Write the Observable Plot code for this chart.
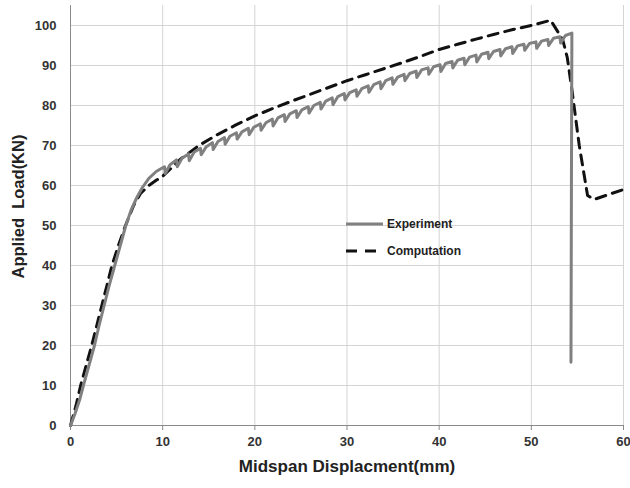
<!DOCTYPE html>
<html>
<head>
<meta charset="utf-8">
<script src="https://cdn.jsdelivr.net/npm/d3@7"></script>
<script src="https://cdn.jsdelivr.net/npm/@observablehq/plot@0.6"></script>
<style>
  html, body { margin: 0; padding: 0; background: #fff; }
  #wrap { position: relative; width: 630px; height: 488px; }
  #legend { position: absolute; left: 346px; top: 214px; font-family: "Liberation Sans", Arial, sans-serif; font-weight: bold; font-size: 12px; color: #222; }
  .row { display: flex; align-items: center; }
  .row svg { margin-right: 3px; }
</style>
</head>
<body>
<div id="wrap">
  <div id="chart"></div>
  <div id="legend">
    <div class="row" style="height:20px"><svg width="38" height="6"><line x1="0" y1="3" x2="37" y2="3" stroke="#808080" stroke-width="3"/></svg><span>Experiment</span></div>
    <div class="row" style="height:34px"><svg width="38" height="6"><line x1="0" y1="3" x2="30" y2="3" stroke="#111" stroke-width="3" stroke-dasharray="11,8"/></svg><span>Computation</span></div>
  </div>
</div>
<script>
// Tick labels
const xTicks = [0, 10, 20, 30, 40, 50, 60];
const yTicks = [0, 10, 20, 30, 40, 50, 60, 70, 80, 90, 100];

// Experiment series (midspan displacement mm, applied load kN)
const expX = [0, 0.5, 1.0, 1.4, 2.0, 2.6, 3.1, 3.65, 4.2, 4.8, 5.4, 6.0, 6.6, 7.2, 7.8, 8.5, 9.3, 9.9,
  10.2, 10.28, 10.8, 11.5, 11.58, 12.1, 12.8, 12.88, 13.4, 14.1, 14.18, 14.7,
  15.4, 15.48, 16.0, 16.7, 16.78, 17.3, 18.0, 18.08, 18.6, 19.3, 19.38, 19.9,
  20.6, 20.68, 21.2, 21.9, 21.98, 22.5, 23.2, 23.28, 23.8, 24.5, 24.58, 25.1,
  25.8, 25.88, 26.4, 27.1, 27.18, 27.7, 28.4, 28.48, 29.0, 29.7, 29.78, 30.3,
  31.0, 31.08, 31.6, 32.3, 32.38, 32.9, 33.6, 33.68, 34.2, 34.9, 34.98, 35.5,
  36.2, 36.28, 36.8, 37.5, 37.58, 38.1, 38.8, 38.88, 39.4, 40.1, 40.18, 40.7,
  41.4, 41.48, 42.0, 42.7, 42.78, 43.3, 44.0, 44.08, 44.6, 45.3, 45.38, 45.9,
  46.6, 46.68, 47.2, 47.9, 47.98, 48.5, 49.2, 49.28, 49.8, 50.5, 50.58, 51.1,
  51.8, 51.88, 52.4, 53.1, 53.18, 53.7, 54.4, 54.35, 54.3];
const expY = [0, 3, 6.5, 10, 15, 20, 25, 30, 35, 40, 45, 50, 54, 57, 59.5, 61.8, 63.5, 64.3,
  64.7, 63.0, 65.2, 66.4, 64.7, 66.8, 67.9, 66.2, 68.3, 69.3, 67.7, 69.6,
  70.7, 69.0, 71.0, 72.0, 70.3, 72.3, 73.2, 71.6, 73.4, 74.3, 72.7, 74.6,
  75.4, 73.8, 75.7, 76.6, 74.9, 76.9, 77.7, 76.0, 77.9, 78.7, 77.0, 78.9,
  79.7, 78.1, 80.0, 80.8, 79.1, 81.1, 81.9, 80.2, 82.2, 83.0, 81.4, 83.2,
  83.9, 82.3, 84.2, 84.9, 83.3, 85.2, 85.9, 84.2, 86.2, 86.9, 85.3, 87.1,
  87.8, 86.2, 88.0, 88.6, 87.0, 88.9, 89.4, 87.8, 89.7, 90.2, 88.5, 90.5,
  91.0, 89.4, 91.3, 91.8, 90.2, 92.1, 92.6, 90.9, 92.8, 93.3, 91.7, 93.5,
  94.0, 92.4, 94.2, 94.7, 93.0, 94.9, 95.3, 93.8, 95.5, 95.9, 94.3, 96.1,
  96.5, 95.0, 96.8, 97.2, 95.6, 97.5, 98.1, 60, 15.8];

// Computation series
const compX = [0, 0.6, 1.1, 1.7, 2.3, 2.85, 3.4, 3.95, 4.5, 5.2, 5.97, 6.85, 7.6, 8.5, 9.3, 10, 11, 12, 13, 14, 16, 18, 20, 22, 24, 26, 28, 30, 32, 34, 36, 38, 40, 42, 44, 46, 48, 50, 52.1, 53.4, 53.9, 54.4, 55.2, 56.1, 56.8, 60];
const compY = [0, 5, 10, 15, 20, 25, 30, 35, 40, 45, 50, 55, 58, 60, 61.3, 62.3, 64.5, 66.7, 68.4, 70.1, 72.8, 75.2, 77.4, 79.3, 81.1, 82.8, 84.5, 86.2, 87.7, 89.2, 90.7, 92.3, 94, 95.3, 96.6, 97.8, 99, 100, 101.3, 96.5, 92, 84, 70, 57.5, 56.5, 59];

const exp = expX.map((x, i) => ({x, y: expY[i]}));
const comp = compX.map((x, i) => ({x, y: compY[i]}));

const font = "'Liberation Sans', Arial, sans-serif";
const chart = Plot.plot({
  width: 630,
  height: 488,
  marginLeft: 70,
  marginRight: 7,
  marginTop: 5,
  marginBottom: 63,
  style: {fontFamily: font, background: "#fff", overflow: "visible"},
  x: {domain: [0, 60]},
  y: {domain: [0, 105]},
  marks: [
    Plot.gridX(xTicks.slice(1), {stroke: "#d4d4d4", strokeOpacity: 1}),
    Plot.gridY(yTicks.slice(1), {stroke: "#d4d4d4", strokeOpacity: 1}),
    Plot.ruleY([0], {stroke: "#8a8a8a", strokeWidth: 1}),
    Plot.ruleX([0], {stroke: "#8a8a8a", strokeWidth: 1}),
    Plot.axisX(xTicks, {tickSize: 5, stroke: "#8a8a8a", tickPadding: 6, fontSize: 13, fontWeight: "bold", fill: "#333", label: null}),
    Plot.axisY(yTicks, {tickSize: 0, tickPadding: 14, fontSize: 13, fontWeight: "bold", fill: "#333", label: null}),
    Plot.text(["Midspan Displacment(mm)"], {frameAnchor: "bottom", dy: 46, fontSize: 17, fontWeight: "bold", fill: "#222"}),
    Plot.text(["Applied  Load(KN)"], {frameAnchor: "left", textAnchor: "middle", dx: -52, dy: -9, rotate: -90, fontSize: 16.5, fontWeight: "bold", fill: "#222"}),
    Plot.line(comp, {x: "x", y: "y", stroke: "#111", strokeWidth: 3, strokeDasharray: "10,7", curve: "linear"}),
    Plot.line(exp, {x: "x", y: "y", stroke: "#808080", strokeWidth: 3, strokeLinejoin: "round"})
  ]
});
document.getElementById("chart").appendChild(chart);
</script>
</body>
</html>
